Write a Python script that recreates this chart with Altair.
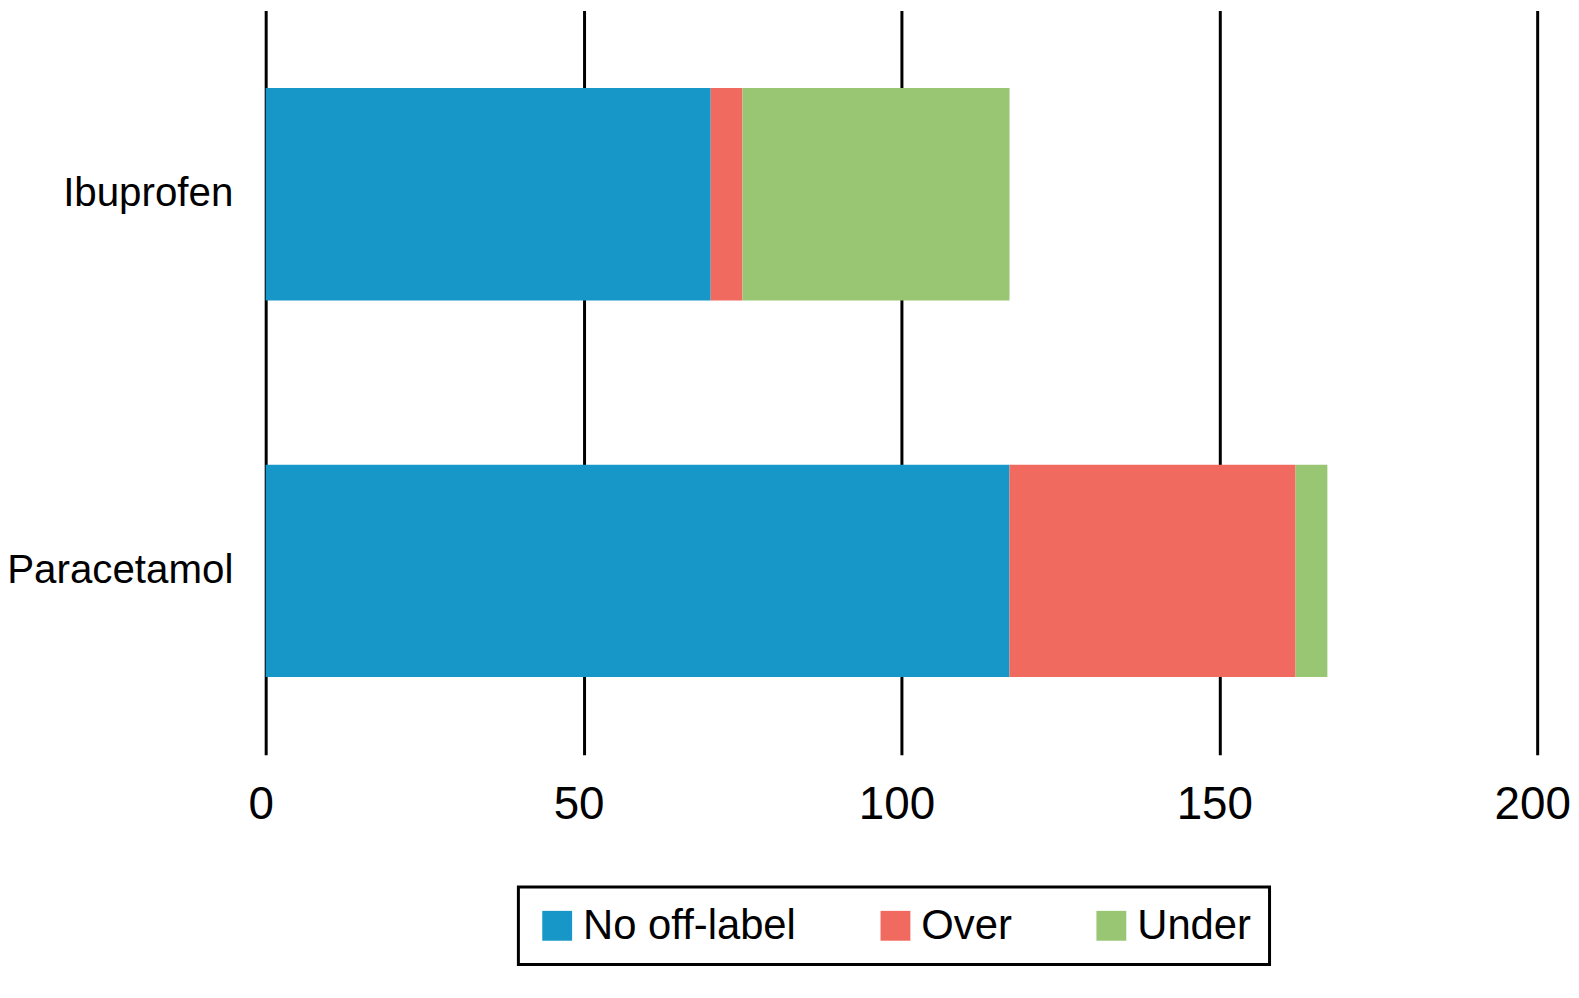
import altair as alt
import pandas as pd

drugs = ["Ibuprofen", "Paracetamol"]
categories = ["No off-label", "Over", "Under"]
ibuprofen_values = [70, 5, 42]
paracetamol_values = [117, 45, 5]
colors = ["#1796C8", "#F06A60", "#98C673"]
x_ticks = [0, 50, 100, 150, 200]

rows = []
for drug, vals in zip(drugs, [ibuprofen_values, paracetamol_values]):
    for i, (cat, v) in enumerate(zip(categories, vals)):
        rows.append({"drug": drug, "category": cat, "value": v, "ord": i})
df = pd.DataFrame(rows)

FONT = "Liberation Sans"

chart = alt.Chart(df).mark_bar().encode(
    y=alt.Y("drug:N", sort=drugs, title=None,
            scale=alt.Scale(paddingInner=0.436, paddingOuter=0.206),
            axis=alt.Axis(domain=False, ticks=False, labelFontSize=40.5,
                          labelPadding=33, labelFont=FONT, labelColor="black",
                          labelLimit=500, grid=False)),
    x=alt.X("value:Q", title=None, stack="zero",
            scale=alt.Scale(domain=[0, 200], nice=False),
            axis=alt.Axis(values=x_ticks, domain=False, ticks=False,
                          grid=True, gridColor="black", gridWidth=3, gridOpacity=1,
                          labelFontSize=46, labelFont=FONT, labelColor="black",
                          labelPadding=28, labelFlush=False, labelOffset=-5)),
    color=alt.Color("category:N", sort=categories,
                    scale=alt.Scale(domain=categories, range=colors),
                    legend=alt.Legend(title=None, orient="none", legendX=254, legendY=881,
                                      direction="horizontal", symbolType="square",
                                      symbolSize=900, symbolStrokeWidth=0,
                                      labelFontSize=42, labelFont=FONT, labelColor="black",
                                      labelOffset=5, labelLimit=500, columnPadding=78,
                                      padding=18, strokeColor="black",
                                      fillColor="white")),
    order=alt.Order("ord:Q"),
).properties(
    width=1278, height=748,
    background="white",
    autosize=alt.AutoSizeParams(type="none"),
    padding={"left": 259, "top": 0, "right": 34, "bottom": 226},
).configure_view(strokeWidth=0).configure_legend(strokeWidth=3)

chart.save("out.html", embed_options={"renderer": "svg", "actions": False})
